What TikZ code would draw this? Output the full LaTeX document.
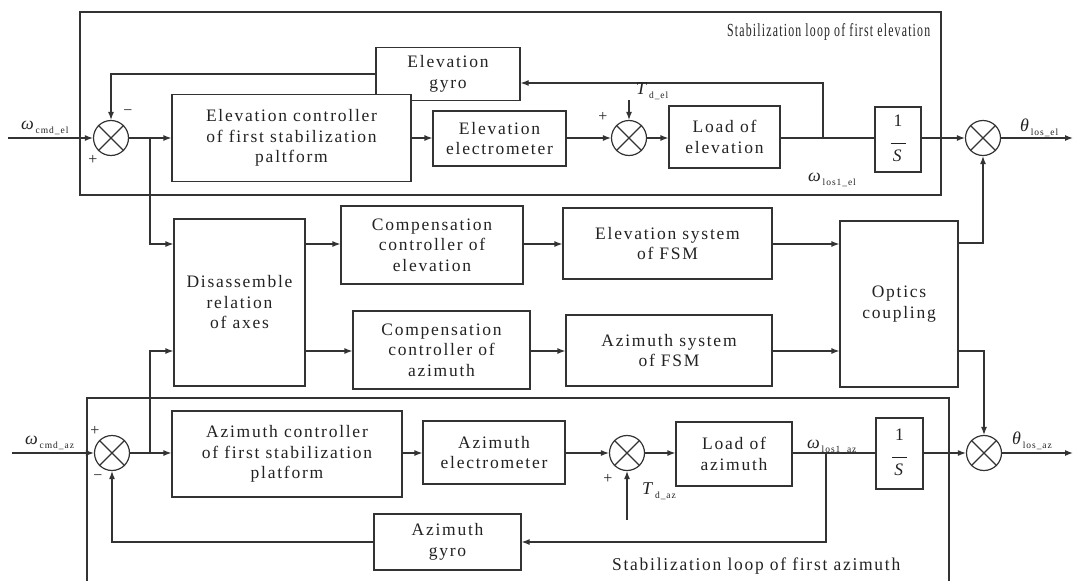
\documentclass[tikz,border=0pt]{standalone}
\usepackage{fontspec}
\setmainfont{Liberation Serif}[LetterSpace=10]
\usepackage{graphicx}
\usetikzlibrary{arrows.meta}
\definecolor{lc}{HTML}{333333}
\definecolor{tc}{HTML}{222222}
\newcommand\subs[1]{\raisebox{-0.5ex}{\fontsize{9.5}{10}\selectfont #1}}
\newcommand\sumj[3]{\node[sumc] (#1) at (#2,#3) {};
  \draw[ln] (#1.north west)--(#1.south east) (#1.north east)--(#1.south west);}
\newcommand\invs{{\setlength{\tabcolsep}{0pt}\begin{tabular}{c}1\\[-3pt]\rule{15pt}{0.9pt}\\[-3pt]\textit{S}\end{tabular}}}
\begin{document}
\begin{tikzpicture}[x=1pt,y=-1pt,
 ln/.style={draw=lc,line width=1.2pt},
 arr/.style={ln,-{Latex[length=8pt,width=6pt]}},
 blk/.style={ln,fill=white,inner sep=0pt,align=center,text=tc,font=\fontsize{17.5}{20.5}\selectfont},
 sumc/.style={ln,circle,minimum size=35pt,inner sep=0pt},
 lbl/.style={text=tc,inner sep=0pt,font=\fontsize{18}{20}\selectfont},
 sgn/.style={text=tc,inner sep=0pt,font=\fontsize{16}{16}\selectfont},
]
\useasboundingbox (0,0) rectangle (1073,581);
% frames
\draw[ln] (80,12) rectangle (941,195);
\draw[ln] (87,581) -- (87,398) -- (949,398) -- (949,581);
\node[lbl,anchor=base west] (tel) at (727,36) {\resizebox{203pt}{13pt}{Stabilization loop of first elevation}};
\node[lbl,anchor=base west] (taz) at (612,570) {\resizebox{288pt}{\height}{Stabilization loop of first azimuth}};

% ---- elevation loop
\node[blk,minimum width=144pt,minimum height=53pt] (gyel) at (448,74) {Elevation\\gyro};
\node[blk,minimum width=239pt,minimum height=87pt] (ctel) at (291.5,138) {Elevation controller\\of first stabilization\\paltform};
\node[blk,minimum width=133pt,minimum height=55pt] (emel) at (499.5,138.5) {Elevation\\electrometer};
\node[blk,minimum width=111pt,minimum height=62pt] (ldel) at (724.5,137) {Load of\\elevation};
\node[blk,minimum width=46pt,minimum height=65pt] (isel) at (898,139.5) {\invs};
\sumj{s1}{111}{138}
\sumj{s2}{629}{138}
\sumj{s3}{983}{138}

% ---- middle
\node[blk,minimum width=131pt,minimum height=167pt] (dis) at (239.5,302.5) {Disassemble\\relation\\of axes};
\node[blk,minimum width=182pt,minimum height=78pt] (ce) at (432,245) {Compensation\\controller of\\elevation};
\node[blk,minimum width=177pt,minimum height=78pt] (ca) at (441.5,350) {Compensation\\controller of\\azimuth};
\node[blk,minimum width=209pt,minimum height=71pt] (fe) at (667.5,243.5) {Elevation system\\of FSM};
\node[blk,minimum width=206pt,minimum height=71pt] (fa) at (669,350.5) {Azimuth system\\of FSM};
\node[blk,minimum width=118pt,minimum height=166pt] (op) at (899,304) {Optics\\coupling};

% ---- azimuth loop
\node[blk,minimum width=230pt,minimum height=86pt] (ctaz) at (287,454) {Azimuth controller\\of first stabilization\\platform};
\node[blk,minimum width=142pt,minimum height=63pt] (emaz) at (494,452.5) {Azimuth\\electrometer};
\node[blk,minimum width=116pt,minimum height=64pt] (ldaz) at (734,454) {Load of\\azimuth};
\node[blk,minimum width=47pt,minimum height=71pt] (isaz) at (899.5,453.5) {\invs};
\node[blk,minimum width=147pt,minimum height=56pt] (gyaz) at (447.5,542) {Azimuth\\gyro};
\sumj{a1}{112}{453}
\sumj{a2}{627}{453}
\sumj{a3}{984}{453}

% coordinates
\coordinate (inel) at (8,138);
\coordinate (outel) at (1073,138);
\coordinate (inaz) at (12,453);
\coordinate (outaz) at (1073,453);
\coordinate (tdel) at (629,100);
\coordinate (tdaz) at (627,520);
\coordinate (fbel) at (823,83);
\coordinate (fbaz) at (826,542);
\coordinate (brel) at (150,138);
\coordinate (braz) at (150,453);

% elevation connectors
\draw[arr] (inel) -- (s1.west);
\draw[arr] (s1.east) -- (s1.east -| ctel.west);
\draw[arr] (ctel.east |- s1) -- (emel.west |- s1);
\draw[arr] (emel.east |- s2) -- (s2.west);
\draw[arr] (tdel) -- (s2.north);
\draw[arr] (s2.east) -- (s2.east -| ldel.west);
\draw[ln] (ldel.east |- s2) -- (isel.west |- s2);
\draw[arr] (isel.east |- s3) -- (s3.west);
\draw[arr] (s3.east) -- (outel);
\draw[arr] (fbel |- s2) -- (fbel) -- (fbel -| gyel.east);
\draw[arr] (gyel.west) -- (gyel.west -| s1.north) -- (s1.north);
\draw[arr] (brel) -- (150,244) -- (dis.west |- 0,244);

% middle connectors
\draw[arr] (dis.east |- 0,244) -- (ce.west |- 0,244);
\draw[arr] (dis.east |- 0,351) -- (ca.west |- 0,351);
\draw[arr] (ce.east |- 0,244) -- (fe.west |- 0,244);
\draw[arr] (ca.east |- 0,351) -- (fa.west |- 0,351);
\draw[arr] (fe.east |- 0,244) -- (op.west |- 0,244);
\draw[arr] (fa.east |- 0,351) -- (op.west |- 0,351);
\draw[arr] (op.east |- 0,243) -- (s3.south |- 0,243) -- (s3.south);
\draw[arr] (op.east |- 0,351) -- (a3.north |- 0,351) -- (a3.north);

% azimuth connectors
\draw[arr] (inaz) -- (a1.west);
\draw[arr] (a1.east) -- (a1.east -| ctaz.west);
\draw[arr] (braz) -- (150,351) -- (dis.west |- 0,351);
\draw[arr] (ctaz.east |- a1) -- (emaz.west |- a1);
\draw[arr] (emaz.east |- a2) -- (a2.west);
\draw[arr] (tdaz) -- (a2.south);
\draw[arr] (a2.east) -- (a2.east -| ldaz.west);
\draw[ln] (ldaz.east |- a3) -- (isaz.west |- a3);
\draw[arr] (isaz.east |- a3) -- (a3.west);
\draw[arr] (a3.east) -- (outaz);
\draw[arr] (fbaz |- a2) -- (fbaz) -- (gyaz.east);
\draw[arr] (gyaz.west) -- (gyaz.west -| a1.south) -- (a1.south);

% labels
\node[lbl,anchor=base west] (lwel) at (21,129) {\textit{ω}\subs{cmd\_el}};
\node[lbl,anchor=base west] (lwaz) at (25,444) {\textit{ω}\subs{cmd\_az}};
\node[lbl,anchor=base west] (ltdel) at (636,94) {\textit{T}\subs{d\_el}};
\node[lbl,anchor=base west] (ltdaz) at (642,494) {\textit{T}\subs{d\_az}};
\node[lbl,anchor=base west] (lwlel) at (808,181) {\textit{ω}\subs{los1\_el}};
\node[lbl,anchor=base west] (lwlaz) at (807,448) {\textit{ω}\subs{los1\_az}};
\node[lbl,anchor=base west] (lthel) at (1020,131) {\textit{θ}\subs{los\_el}};
\node[lbl,anchor=base west] (lthaz) at (1012,444) {\textit{θ}\subs{los\_az}};
\node[sgn] (m1) at (128,113) {−};
\node[sgn] (p1) at (93,160) {+};
\node[sgn] (p2) at (603,117) {+};
\node[sgn] (p3) at (95,431) {+};
\node[sgn] (m3) at (98,478) {−};
\node[sgn] (p4) at (608,479) {+};
\end{tikzpicture}
\end{document}
